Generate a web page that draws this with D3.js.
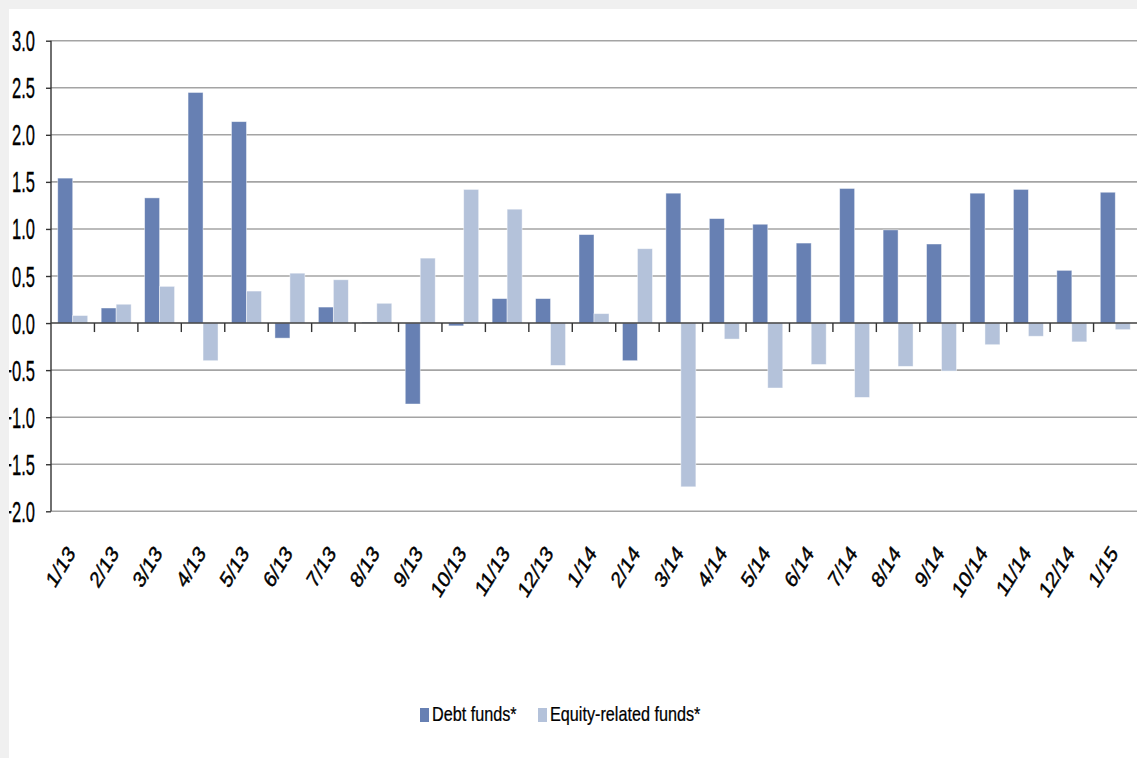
<!DOCTYPE html>
<html>
<head>
<meta charset="utf-8">
<script src="https://cdn.jsdelivr.net/npm/d3@7"></script>
<style>
  html, body { margin: 0; padding: 0; background: #f0f0f0; }
  svg { display: block; }
  text { font-family: "Liberation Sans", Arial, sans-serif; fill: #000; }
</style>
</head>
<body>
<svg id="chart" width="1137" height="758"></svg>
<script>
const categories = ["1/13","2/13","3/13","4/13","5/13","6/13","7/13","8/13","9/13","10/13","11/13","12/13",
                    "1/14","2/14","3/14","4/14","5/14","6/14","7/14","8/14","9/14","10/14","11/14","12/14","1/15"];
const debtFunds = [1.54, 0.16, 1.33, 2.45, 2.14, -0.16, 0.17, 0.01, -0.86, -0.03, 0.26, 0.26,
                   0.94, -0.40, 1.38, 1.11, 1.05, 0.85, 1.43, 0.99, 0.84, 1.38, 1.42, 0.56, 1.39];
const equityFunds = [0.08, 0.20, 0.39, -0.40, 0.34, 0.53, 0.46, 0.21, 0.69, 1.42, 1.21, -0.45,
                     0.10, 0.79, -1.74, -0.17, -0.69, -0.44, -0.79, -0.46, -0.51, -0.23, -0.14, -0.20, -0.07];
const seriesNames = ["Debt funds*", "Equity-related funds*"];
const yTicks = [-2.0, -1.5, -1.0, -0.5, 0.0, 0.5, 1.0, 1.5, 2.0, 2.5, 3.0];
const colors = ["#6780b3", "#b4c2da"];

(function () {
const svg = d3.select("#chart");
const W = 1137, H = 758;
const pLeft = 51, pRight = 1137, pTop = 40.7, pBottom = 511.3;

// background panel
svg.append("rect").attr("x", 0).attr("y", 0).attr("width", W).attr("height", H).attr("fill", "#f0f0f0");
svg.append("rect").attr("x", 9).attr("y", 9).attr("width", W - 9).attr("height", H - 9).attr("fill", "#ffffff");

const x = d3.scaleBand().domain(categories).range([pLeft, pRight]).paddingInner(0.31).paddingOuter(0.155);
const xs = d3.scaleBand().domain(seriesNames).range([0, x.bandwidth()]);
const y = d3.scaleLinear().domain([-2, 3]).range([pBottom, pTop]);
const step = x.step();

// gridlines
svg.append("g").selectAll("line").data(yTicks.filter(d => d !== 0)).join("line")
  .attr("x1", pLeft).attr("x2", pRight)
  .attr("y1", d => y(d)).attr("y2", d => y(d))
  .attr("stroke", "#a4a4a4").attr("stroke-width", 1.6);

// bars
const rows = categories.map((c, i) => ({ c, vals: [debtFunds[i], equityFunds[i]] }));
const groups = svg.append("g").selectAll("g").data(rows).join("g")
  .attr("transform", d => `translate(${x(d.c)},0)`);
groups.selectAll("rect").data(d => d.vals.map((v, k) => ({ v, k }))).join("rect")
  .attr("x", d => xs(seriesNames[d.k]))
  .attr("width", xs.bandwidth())
  .attr("y", d => y(Math.max(0, d.v)))
  .attr("height", d => Math.abs(y(d.v) - y(0)))
  .attr("fill", d => colors[d.k])
  .attr("stroke", "rgba(255,255,255,0.55)").attr("stroke-width", 0.8);

// y axis
const yAxis = svg.append("g").attr("transform", `translate(${pLeft},0)`)
  .call(d3.axisLeft(y).tickValues(yTicks).tickSize(5).tickFormat(""));
yAxis.selectAll("path, line").attr("stroke", "#333").attr("stroke-width", 1.4);
yAxis.select(".domain").attr("d", `M0,${pTop}V${pBottom}`);

// y labels (condensed)
svg.append("g").selectAll("g").data(yTicks).join("g")
  .attr("transform", d => `translate(35,${y(d) + 10.5}) scale(0.57,1)`)
  .append("text")
  .attr("text-anchor", "end")
  .attr("font-size", 29)
  .attr("stroke", "#000").attr("stroke-width", 0.35)
  .text(d => d3.format(".1f")(d));

// zero line
svg.append("line").attr("x1", pLeft).attr("x2", pRight).attr("y1", y(0)).attr("y2", y(0))
  .attr("stroke", "#404040").attr("stroke-width", 1.5);

// x ticks at category boundaries
svg.append("g").selectAll("line").data(categories.slice(1)).join("line")
  .attr("x1", d => x(d) - x.paddingOuter() * step).attr("x2", d => x(d) - x.paddingOuter() * step)
  .attr("y1", y(0)).attr("y2", y(0) + 9)
  .attr("stroke", "#333").attr("stroke-width", 1.4);

// x labels
svg.append("g").selectAll("g").data(categories).join("g")
  .attr("transform", d => `translate(${x(d) + x.bandwidth() / 2 + 3.5},554) scale(0.78,1) rotate(-52)`)
  .append("text")
  .attr("text-anchor", "end")
  .attr("font-size", 23)
  .attr("stroke", "#000").attr("stroke-width", 0.5)
  .text(d => d);

// legend
const legend = svg.append("g");
const legendX = [420, 538];
seriesNames.forEach((name, k) => {
  legend.append("rect").attr("x", legendX[k]).attr("y", 708).attr("width", 9).attr("height", 14)
    .attr("fill", colors[k]);
  legend.append("g").attr("transform", `translate(${legendX[k] + 12},721) scale(0.79,1)`)
    .append("text").attr("font-size", 20.5)
    .attr("stroke", "#000").attr("stroke-width", 0.25)
    .text(name);
});

// left edge strip
svg.append("rect").attr("x", 0).attr("y", 0).attr("width", 9).attr("height", H).attr("fill", "#f0f0f0");
})();
</script>
</body>
</html>
